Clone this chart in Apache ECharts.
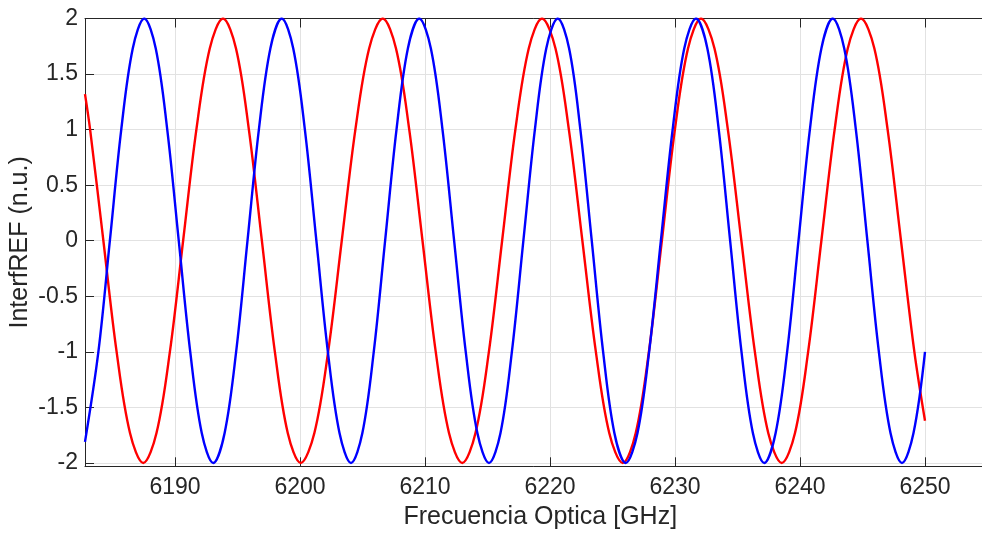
<!DOCTYPE html>
<html>
<head>
<meta charset="utf-8">
<title>InterfREF</title>
<script src="https://cdn.jsdelivr.net/npm/echarts@6/dist/echarts.min.js"></script>
<style>
  html, body { margin: 0; padding: 0; background: #ffffff; }
  #chart { width: 982px; height: 533px; }
</style>
</head>
<body>
<div id="chart"></div>
<script>
// Optical frequency [GHz] and normalised interferogram samples, reference arm A (red)
const redFreq = [
  6182.80, 6183.21, 6184.27, 6185.33, 6186.40, 6187.46,
  6188.52, 6189.59, 6190.65, 6191.71, 6192.78, 6193.84,
  6194.88, 6195.91, 6196.95, 6197.99, 6199.02, 6200.06,
  6201.15, 6202.25, 6203.34, 6204.43, 6205.53, 6206.62,
  6207.68, 6208.74, 6209.80, 6210.86, 6211.92, 6212.98,
  6214.04, 6215.11, 6216.17, 6217.23, 6218.30, 6219.36,
  6220.44, 6221.51, 6222.59, 6223.67, 6224.74, 6225.82,
  6226.86, 6227.91, 6228.95, 6229.99, 6231.04, 6232.08,
  6233.16, 6234.23, 6235.31, 6236.39, 6237.46, 6238.54,
  6239.60, 6240.65, 6241.71, 6242.77, 6243.82, 6244.88,
  6245.95, 6247.01, 6248.08, 6249.15, 6250.00
];
const redVal = [
  1.32, 1.00, 0.00, -1.00, -1.73, -2.00,
  -1.73, -1.00, 0.00, 1.00, 1.73, 2.00,
  1.73, 1.00, 0.00, -1.00, -1.73, -2.00,
  -1.73, -1.00, 0.00, 1.00, 1.73, 2.00,
  1.73, 1.00, 0.00, -1.00, -1.73, -2.00,
  -1.73, -1.00, 0.00, 1.00, 1.73, 2.00,
  1.73, 1.00, 0.00, -1.00, -1.73, -2.00,
  -1.73, -1.00, 0.00, 1.00, 1.73, 2.00,
  1.73, 1.00, 0.00, -1.00, -1.73, -2.00,
  -1.73, -1.00, 0.00, 1.00, 1.73, 2.00,
  1.73, 1.00, 0.00, -1.00, -1.62
];

// Reference arm B (blue)
const blueFreq = [
  6182.80, 6183.87, 6184.79, 6185.70, 6186.62, 6187.54,
  6188.46, 6189.38, 6190.30, 6191.22, 6192.14, 6193.06,
  6193.97, 6194.89, 6195.80, 6196.71, 6197.63, 6198.54,
  6199.46, 6200.39, 6201.31, 6202.23, 6203.16, 6204.08,
  6204.99, 6205.90, 6206.81, 6207.72, 6208.63, 6209.54,
  6210.47, 6211.40, 6212.33, 6213.26, 6214.19, 6215.12,
  6216.04, 6216.95, 6217.87, 6218.79, 6219.70, 6220.62,
  6221.53, 6222.43, 6223.34, 6224.25, 6225.15, 6226.06,
  6227.00, 6227.93, 6228.87, 6229.81, 6230.74, 6231.68,
  6232.59, 6233.50, 6234.41, 6235.32, 6236.23, 6237.14,
  6238.05, 6238.97, 6239.88, 6240.79, 6241.71, 6242.62,
  6243.54, 6244.47, 6245.39, 6246.31, 6247.24, 6248.16,
  6249.08, 6250.00
];
const blueVal = [
  -1.81, -1.00, 0.00, 1.00, 1.73, 2.00,
  1.73, 1.00, 0.00, -1.00, -1.73, -2.00,
  -1.73, -1.00, 0.00, 1.00, 1.73, 2.00,
  1.73, 1.00, 0.00, -1.00, -1.73, -2.00,
  -1.73, -1.00, 0.00, 1.00, 1.73, 2.00,
  1.73, 1.00, 0.00, -1.00, -1.73, -2.00,
  -1.73, -1.00, 0.00, 1.00, 1.73, 2.00,
  1.73, 1.00, 0.00, -1.00, -1.73, -2.00,
  -1.73, -1.00, 0.00, 1.00, 1.73, 2.00,
  1.73, 1.00, 0.00, -1.00, -1.73, -2.00,
  -1.73, -1.00, 0.00, 1.00, 1.73, 2.00,
  1.73, 1.00, 0.00, -1.00, -1.73, -2.00,
  -1.73, -1.00
];

const xRange = [6182.8, 6255];
const yRange = [-2.03, 2.0];

const pairs = (xs, ys) => xs.map((x, i) => [x, ys[i]]);

const FONT = '"Liberation Sans", Arial, Helvetica, sans-serif';
const AXIS_COLOR = '#262626';
const GRID_COLOR = '#e2e2e2';

const chart = echarts.init(document.getElementById('chart'), null, { renderer: 'canvas' });

chart.setOption({
  animation: false,
  backgroundColor: '#ffffff',
  grid: {
    left: 85, top: 18.5, width: 902.5, height: 447.8,
    containLabel: false, outerBoundsMode: 'none'
  },
  xAxis: [
    {
      type: 'value',
      position: 'bottom',
      min: xRange[0],
      max: xRange[1],
      splitNumber: 7,
      name: 'Frecuencia Optica [GHz]',
      nameLocation: 'middle',
      nameGap: 38,
      nameTextStyle: { fontFamily: FONT, fontSize: 25, color: AXIS_COLOR, padding: [0, 0, 0, 8] },
      axisLine: { show: true, onZero: false, lineStyle: { color: AXIS_COLOR, width: 1 } },
      axisTick: { show: true, inside: true, length: 9, lineStyle: { color: AXIS_COLOR } },
      axisLabel: {
        showMinLabel: false, showMaxLabel: false,
        margin: 10, fontFamily: FONT, fontSize: 23, color: AXIS_COLOR,
        formatter: v => String(v)
      },
      splitLine: { show: true, lineStyle: { color: GRID_COLOR, width: 1 } }
    },
    {
      type: 'value',
      position: 'top',
      min: xRange[0],
      max: xRange[1],
      splitNumber: 7,
      axisLine: { show: true, onZero: false, lineStyle: { color: AXIS_COLOR, width: 1 } },
      axisTick: { show: true, inside: true, length: 9, lineStyle: { color: AXIS_COLOR } },
      axisLabel: { show: false },
      splitLine: { show: false }
    }
  ],
  yAxis: {
    type: 'value',
    min: yRange[0],
    max: yRange[1],
    splitNumber: 8,
    name: 'InterfREF (n.u.)',
    nameLocation: 'middle',
    nameGap: 52,
    nameMoveOverlap: false,
    nameTextStyle: { fontFamily: FONT, fontSize: 25, color: AXIS_COLOR },
    axisLine: { show: true, onZero: false, lineStyle: { color: AXIS_COLOR, width: 1 } },
    axisTick: { show: true, inside: true, length: 9, lineStyle: { color: AXIS_COLOR } },
    axisLabel: {
      showMinLabel: false,
      margin: 7, fontFamily: FONT, fontSize: 23, color: AXIS_COLOR,
      formatter: v => String(v)
    },
    splitLine: { show: true, lineStyle: { color: GRID_COLOR, width: 1 } }
  },
  series: [
    {
      name: 'A',
      type: 'line',
      data: pairs(redFreq, redVal),
      smooth: 0.35,
      showSymbol: false,
      clip: true,
      lineStyle: { color: '#ff0000', width: 2.4 }
    },
    {
      name: 'B',
      type: 'line',
      data: pairs(blueFreq, blueVal),
      smooth: 0.35,
      showSymbol: false,
      clip: true,
      lineStyle: { color: '#0000ff', width: 2.4 }
    }
  ]
});
</script>
</body>
</html>
